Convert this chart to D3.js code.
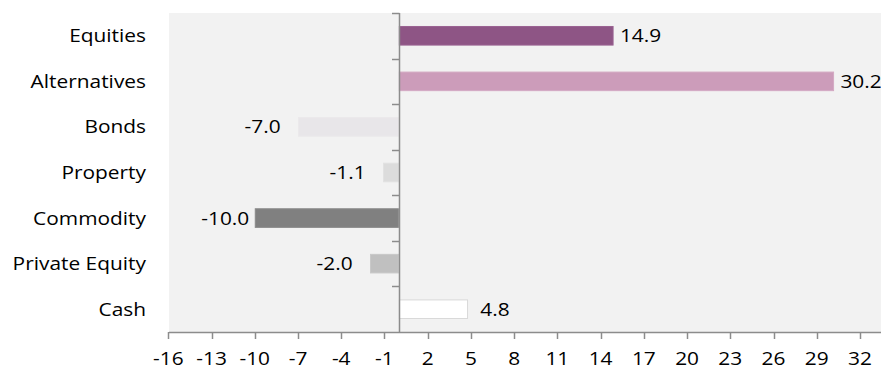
<!DOCTYPE html>
<html><head><meta charset="utf-8">
<script src="https://cdn.jsdelivr.net/npm/d3@7"></script>
<style>body{margin:0;background:#fff;} svg{display:block;font-family:"Open Sans","Liberation Sans",sans-serif;}</style>
</head><body><svg id="c" width="881" height="371"></svg>
<script>
const categories = ["Equities","Alternatives","Bonds","Property","Commodity","Private Equity","Cash"];
const values = [14.9, 30.2, -7.0, -1.1, -10.0, -2.0, 4.8];
const colors = ["#8e5585","#cc9cba","#e8e6e9","#dcdcdc","#808080","#c0c0c0","#ffffff"];
const strokes = ["#9a6392","#d4a9c3","#ebe9eb","#e2e2e2","#8a8a8a","#c8c8c8","#d9d9d9"];
const tickValues = [-16,-13,-10,-7,-4,-1,2,5,8,11,14,17,20,23,26,29,32];

(function(){
const svg = d3.select("#c");
const pL = 169, pT = 13, pB = 332, pR = 881;
const FS = 18.5, SX = 1.13;
const x = d3.scaleLinear().domain([-16, 32]).range([168.3, 860]);
const y = d3.scaleBand().domain(categories).range([pT, pB]).paddingInner(0.57).paddingOuter(0.285);
const yb = d3.scaleBand().domain(categories).range([pT, pB]);

svg.append("rect").attr("x", pL).attr("y", pT).attr("width", pR-pL).attr("height", pB-pT).attr("fill","#f2f2f2");

svg.selectAll("rect.bar").data(values).enter().append("rect")
  .attr("class","bar")
  .attr("x", d => x(Math.min(0,d)) + 0.5)
  .attr("y", (d,i) => y(categories[i]) + 0.5)
  .attr("width", d => Math.abs(x(d)-x(0)) - 1)
  .attr("height", y.bandwidth() - 1)
  .attr("fill", (d,i) => colors[i])
  .attr("stroke", (d,i) => strokes[i]).attr("stroke-width",1);

const ax = "#8c8c8c";
const x0 = Math.round(x(0)) + 0.5;
svg.append("line").attr("x1", x0).attr("x2", x0).attr("y1", pT).attr("y2", pB).attr("stroke", ax).attr("stroke-width",1.5);
const bounds = categories.map(c => yb(c));
svg.selectAll("line.yt").data(bounds).enter().append("line")
  .attr("x1", x0-7.5).attr("x2", x0).attr("y1", d=>Math.round(d)+0.5).attr("y2", d=>Math.round(d)+0.5)
  .attr("stroke", ax).attr("stroke-width",1.5);

svg.append("line").attr("x1", pL).attr("x2", pR).attr("y1", pB+0.5).attr("y2", pB+0.5).attr("stroke", ax).attr("stroke-width",1.5);
svg.selectAll("line.xt").data(tickValues).enter().append("line")
  .attr("x1", d=>Math.round(x(d))+0.5).attr("x2", d=>Math.round(x(d))+0.5).attr("y1", pB).attr("y2", pB+7)
  .attr("stroke", ax).attr("stroke-width",1.5);

function txt(sel, fx, fy, anchor){
  sel.attr("transform", (d,i) => `translate(${fx(d,i)},${fy(d,i)}) scale(${SX},1)`)
     .attr("text-anchor", anchor).attr("font-size", FS).attr("fill", "#000");
}

svg.selectAll("text.xl").data(tickValues).enter().append("text")
  .call(txt, d => x(d), () => 365, "middle").text(d=>d);

svg.selectAll("text.cl").data(categories).enter().append("text")
  .call(txt, () => 146, c => yb(c) + yb.bandwidth()/2 + 6.5, "end").text(c=>c);

const pos = values.map((v,i)=>({v,i})).filter(o=>o.v>=0);
const neg = values.map((v,i)=>({v,i})).filter(o=>o.v<0);
svg.selectAll("text.vp").data(pos).enter().append("text")
  .call(txt, o => x(o.v) + 27, o => yb(categories[o.i]) + yb.bandwidth()/2 + 6.5, "middle")
  .text(o => o.v.toFixed(1));
svg.selectAll("text.vn").data(neg).enter().append("text")
  .call(txt, o => x(o.v) - 53.5, o => yb(categories[o.i]) + yb.bandwidth()/2 + 6.5, "start")
  .text(o => o.v.toFixed(1));
})();
</script></body></html>
